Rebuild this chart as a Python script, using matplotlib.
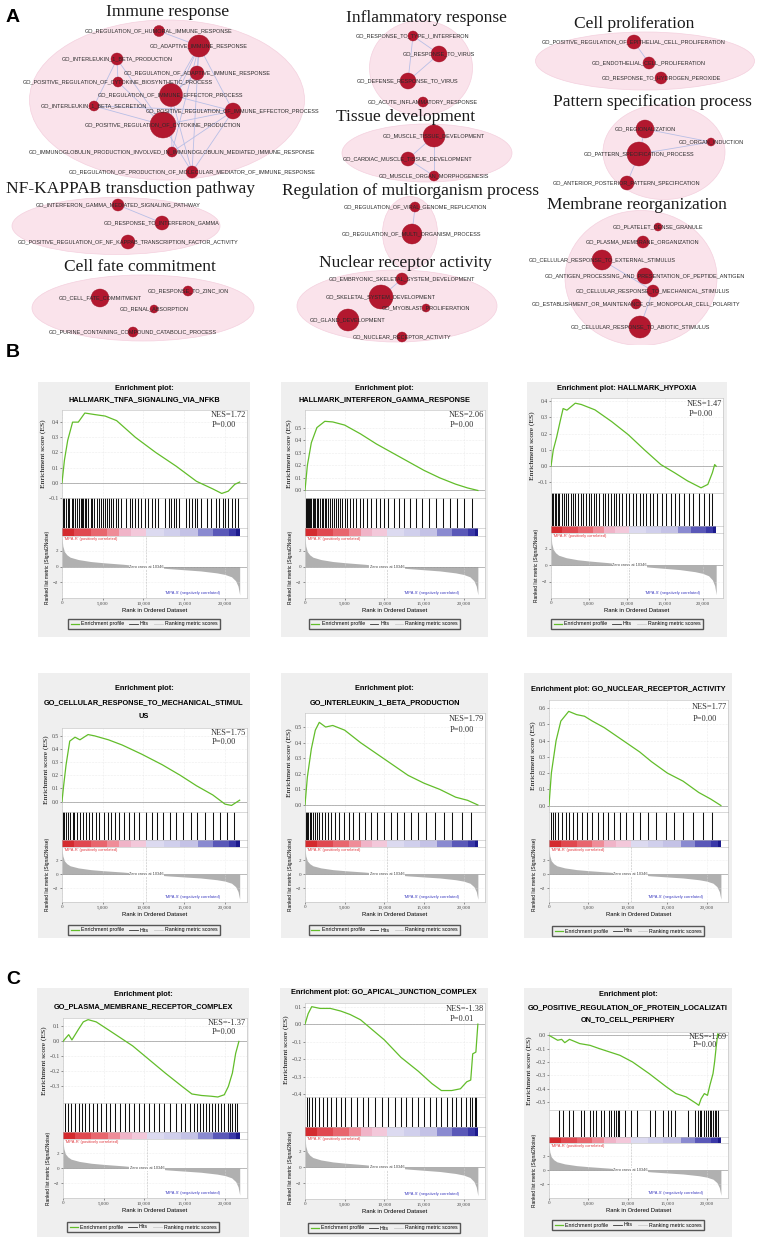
import numpy as np
import matplotlib.pyplot as plt
from matplotlib.patches import Ellipse, Circle, Rectangle
from matplotlib.colors import ListedColormap
from matplotlib.lines import Line2D

SERIF = ['Liberation Serif', 'DejaVu Serif']
SANS = ['Liberation Sans', 'DejaVu Sans']
W, H = 760, 1240

# ---------------- panel A : GO term clusters ----------------
cluster_names = ['Immune response', 'NF-KAPPAB transduction pathway', 'Cell fate commitment',
                 'Inflammatory response', 'Tissue development', 'Regulation of multiorganism process',
                 'Nuclear receptor activity', 'Cell proliferation', 'Pattern specification process',
                 'Membrane reorganization']

cluster_terms = [
    ['GO_REGULATION_OF_HUMORAL_IMMUNE_RESPONSE', 'GO_ADAPTIVE_IMMUNE_RESPONSE',
     'GO_INTERLEUKIN_1_BETA_PRODUCTION', 'GO_REGULATION_OF_ADAPTIVE_IMMUNE_RESPONSE',
     'GO_POSITIVE_REGULATION_OF_CYTOKINE_BIOSYNTHETIC_PROCESS', 'GO_REGULATION_OF_IMMUNE_EFFECTOR_PROCESS',
     'GO_INTERLEUKIN_1_BETA_SECRETION', 'GO_POSITIVE_REGULATION_OF_IMMUNE_EFFECTOR_PROCESS',
     'GO_POSITIVE_REGULATION_OF_CYTOKINE_PRODUCTION',
     'GO_IMMUNOGLOBULIN_PRODUCTION_INVOLVED_IN_IMMUNOGLOBULIN_MEDIATED_IMMUNE_RESPONSE',
     'GO_REGULATION_OF_PRODUCTION_OF_MOLECULAR_MEDIATOR_OF_IMMUNE_RESPONSE'],
    ['GO_INTERFERON_GAMMA_MEDIATED_SIGNALING_PATHWAY', 'GO_RESPONSE_TO_INTERFERON_GAMMA',
     'GO_POSITIVE_REGULATION_OF_NF_KAPPAB_TRANSCRIPTION_FACTOR_ACTIVITY'],
    ['GO_CELL_FATE_COMMITMENT', 'GO_RESPONSE_TO_ZINC_ION', 'GO_RENAL_ABSORPTION',
     'GO_PURINE_CONTAINING_COMPOUND_CATABOLIC_PROCESS'],
    ['GO_RESPONSE_TO_TYPE_I_INTERFERON', 'GO_RESPONSE_TO_VIRUS', 'GO_DEFENSE_RESPONSE_TO_VIRUS',
     'GO_ACUTE_INFLAMMATORY_RESPONSE'],
    ['GO_MUSCLE_TISSUE_DEVELOPMENT', 'GO_CARDIAC_MUSCLE_TISSUE_DEVELOPMENT', 'GO_MUSCLE_ORGAN_MORPHOGENESIS'],
    ['GO_REGULATION_OF_VIRAL_GENOME_REPLICATION', 'GO_REGULATION_OF_MULTI_ORGANISM_PROCESS'],
    ['GO_EMBRYONIC_SKELETAL_SYSTEM_DEVELOPMENT', 'GO_SKELETAL_SYSTEM_DEVELOPMENT',
     'GO_MYOBLAST_PROLIFERATION', 'GO_GLAND_DEVELOPMENT', 'GO_NUCLEAR_RECEPTOR_ACTIVITY'],
    ['GO_POSITIVE_REGULATION_OF_EPITHELIAL_CELL_PROLIFERATION', 'GO_ENDOTHELIAL_CELL_PROLIFERATION',
     'GO_RESPONSE_TO_HYDROGEN_PEROXIDE'],
    ['GO_REGIONALIZATION', 'GO_ORGAN_INDUCTION', 'GO_PATTERN_SPECIFICATION_PROCESS',
     'GO_ANTERIOR_POSTERIOR_PATTERN_SPECIFICATION'],
    ['GO_PLATELET_DENSE_GRANULE', 'GO_PLASMA_MEMBRANE_ORGANIZATION', 'GO_CELLULAR_RESPONSE_TO_EXTERNAL_STIMULUS',
     'GO_ANTIGEN_PROCESSING_AND_PRESENTATION_OF_PEPTIDE_ANTIGEN', 'GO_CELLULAR_RESPONSE_TO_MECHANICAL_STIMULUS',
     'GO_ESTABLISHMENT_OR_MAINTENANCE_OF_MONOPOLAR_CELL_POLARITY', 'GO_CELLULAR_RESPONSE_TO_ABIOTIC_STIMULUS'],
]

# node radius ~ gene set size
cluster_sizes = [
    [5.5, 11, 6, 7, 5, 11.5, 5, 8, 13, 5, 6],
    [6, 7, 7],
    [9, 5, 4, 5],
    [5, 8, 8, 5],
    [11, 7, 5],
    [5, 10],
    [6, 12, 4, 11, 5],
    [7, 6, 6],
    [9, 4, 12, 7],
    [4, 6, 10, 8, 6, 5, 11],
]

cluster_links = [
    [(0, 1), (1, 3), (1, 5), (1, 7), (1, 8), (1, 9), (1, 10), (2, 6), (2, 4), (4, 8), (6, 8), (6, 7),
     (5, 7), (5, 9), (5, 10), (7, 9), (7, 10), (8, 7), (8, 10), (3, 5), (2, 8)],
    [(0, 1)],
    [],
    [(0, 1), (0, 2), (1, 2)],
    [(0, 1), (0, 2), (1, 2)],
    [(0, 1)],
    [(0, 1)],
    [(0, 1)],
    [(0, 1), (0, 2), (2, 1), (2, 3)],
    [(2, 4), (4, 6)],
]

# network layout in pixels
cluster_title_xy = [(168, 12), (130, 189), (140, 267), (426, 18), (406, 117), (410, 191),
                    (405, 263), (634, 24), (652, 102), (637, 205)]
cluster_ellipse = [(167, 100, 275, 160), (116, 226, 208, 57), (143, 308, 222, 66), (421, 68, 103, 95),
                   (427, 153, 170, 58), (410, 233, 55, 73), (397, 306, 200, 72), (645, 61, 219, 58),
                   (664, 152, 122, 95), (641, 278, 152, 135)]
cluster_node_xy = [
    [(159, 31), (199, 46), (117, 59), (197, 73), (118, 82), (171, 95), (94, 106), (233, 111), (163, 125),
     (172, 152), (192, 172)],
    [(118, 205), (162, 223), (128, 242)],
    [(100, 298), (188, 291), (154, 309), (133, 332)],
    [(413, 36), (439, 54), (408, 81), (423, 102)],
    [(434, 136), (408, 159), (434, 176)],
    [(415, 207), (412, 234)],
    [(402, 279), (381, 297), (426, 308), (348, 320), (402, 337)],
    [(634, 42), (649, 63), (661, 78)],
    [(645, 129), (711, 142), (639, 154), (627, 183)],
    [(658, 227), (643, 242), (602, 260), (645, 276), (653, 291), (636, 304), (640, 327)],
]

# ---------------- panels B and C : GSEA ----------------
gsea_titles = ['Enrichment plot:\nHALLMARK_TNFA_SIGNALING_VIA_NFKB',
               'Enrichment plot:\nHALLMARK_INTERFERON_GAMMA_RESPONSE',
               'Enrichment plot: HALLMARK_HYPOXIA',
               'Enrichment plot:\nGO_CELLULAR_RESPONSE_TO_MECHANICAL_STIMUL\nUS',
               'Enrichment plot:\nGO_INTERLEUKIN_1_BETA_PRODUCTION',
               'Enrichment plot: GO_NUCLEAR_RECEPTOR_ACTIVITY',
               'Enrichment plot:\nGO_PLASMA_MEMBRANE_RECEPTOR_COMPLEX',
               'Enrichment plot: GO_APICAL_JUNCTION_COMPLEX',
               'Enrichment plot:\nGO_POSITIVE_REGULATION_OF_PROTEIN_LOCALIZATI\nON_TO_CELL_PERIPHERY']
nes_values = [1.72, 2.06, 1.47, 1.75, 1.79, 1.77, -1.37, -1.38, -1.69]
p_values = [0.00, 0.00, 0.00, 0.00, 0.00, 0.00, 0.00, 0.01, 0.00]

# running enrichment score, rank in thousands
es_x_tnfa = [0, 0.3, 0.7, 1.3, 2.0, 2.8, 4.0, 5.3, 6.7, 9.0, 11.5, 14.0, 16.5, 18.5, 19.6, 20.4, 21.2, 21.8]
es_y_tnfa = [0, 0.15, 0.28, 0.40, 0.40, 0.46, 0.45, 0.44, 0.41, 0.30, 0.20, 0.11, 0.01, -0.04, -0.07, -0.055, -0.01, 0.005]
es_x_ifng = [0, 0.3, 0.8, 1.5, 2.5, 3.5, 5.0, 7.0, 9.0, 11.0, 13.0, 15.0, 17.0, 19.0, 20.5, 21.8]
es_y_ifng = [0, 0.20, 0.38, 0.50, 0.55, 0.545, 0.52, 0.45, 0.37, 0.30, 0.23, 0.16, 0.10, 0.05, 0.02, 0.0]
es_x_hypoxia = [0, 0.3, 0.75, 1.2, 1.6, 2.1, 3.2, 4.0, 5.8, 8.0, 10.2, 12.3, 14.5, 16.3, 18.0, 19.8, 20.7, 21.3, 21.6, 21.8]
es_y_hypoxia = [0, 0.10, 0.18, 0.275, 0.355, 0.345, 0.388, 0.38, 0.347, 0.275, 0.194, 0.102, 0.01, -0.04, -0.09, -0.133, -0.112, -0.04, 0.01, 0.0]
es_x_mech = [0, 0.2, 0.5, 0.95, 1.6, 2.2, 3.2, 4.0, 5.7, 7.4, 9.8, 12.3, 14.5, 16.5, 18.5, 20.0, 20.8, 21.8]
es_y_mech = [0, 0.12, 0.28, 0.46, 0.49, 0.47, 0.51, 0.50, 0.47, 0.43, 0.36, 0.28, 0.20, 0.12, 0.05, -0.02, -0.03, 0.01]
es_x_il1b = [0, 0.3, 0.8, 1.3, 1.8, 2.6, 3.5, 5.0, 7.0, 9.0, 11.0, 13.0, 15.0, 17.0, 19.0, 20.5, 21.8]
es_y_il1b = [0, 0.18, 0.36, 0.48, 0.53, 0.50, 0.51, 0.48, 0.40, 0.33, 0.26, 0.19, 0.14, 0.10, 0.05, 0.03, 0.0]
es_x_nuclear = [0, 0.3, 0.9, 1.5, 2.5, 3.5, 4.5, 5.5, 7.0, 8.5, 10.0, 11.5, 13.0, 15.0, 17.0, 19.0, 20.5, 21.8]
es_y_nuclear = [0, 0.20, 0.40, 0.52, 0.58, 0.56, 0.55, 0.52, 0.48, 0.43, 0.38, 0.33, 0.27, 0.20, 0.15, 0.08, 0.04, 0.0]
es_x_plasma = [0, 0.3, 0.7, 1.1, 1.9, 2.5, 3.1, 4.1, 5.8, 8.6, 10.6, 12.6, 14.7, 15.9, 17.1, 18.3, 19.1, 19.9, 20.4, 20.9, 21.3, 21.7]
es_y_plasma = [0, 0.02, 0.045, 0.01, 0.08, 0.13, 0.145, 0.13, 0.07, -0.03, -0.12, -0.21, -0.30, -0.35, -0.36, -0.365, -0.37, -0.355, -0.30, -0.21, -0.08, 0.0]
es_x_apical = [0, 0.4, 0.85, 1.9, 3.2, 4.5, 5.7, 7.0, 10.0, 12.1, 14.3, 16.0, 17.2, 18.5, 19.6, 20.4, 20.9, 21.15, 21.55, 21.8]
es_y_apical = [0, 0.06, 0.10, 0.09, 0.09, 0.075, 0.055, 0.025, -0.09, -0.19, -0.27, -0.34, -0.38, -0.38, -0.37, -0.33, -0.32, -0.17, -0.16, 0.0]
es_x_periph = [0, 1.1, 1.6, 2.0, 2.6, 3.9, 5.2, 6.4, 7.7, 9.0, 10.6, 12.7, 14.9, 16.1, 17.4, 18.7, 19.0, 19.3, 19.7, 20.1, 20.4, 20.8, 21.0, 21.2, 21.4, 21.6]
es_y_periph = [0, -0.037, -0.03, -0.055, -0.03, -0.062, -0.075, -0.10, -0.125, -0.15, -0.20, -0.287, -0.387, -0.437, -0.462, -0.512, -0.525, -0.475, -0.437, -0.45, -0.375, -0.287, -0.20, -0.087, 0.012, 0.0]

# hit positions, rank in thousands
hits_tnfa = [0.1, 0.3, 0.5, 0.7, 0.9, 1.2, 1.4, 1.6, 1.8, 2.1, 2.3, 2.5, 2.6, 2.8, 3.0, 3.2, 3.5, 3.7, 3.9,
             4.3, 4.5, 4.8, 5.0, 5.3, 5.5, 5.8, 6.0, 6.3, 6.6, 6.9, 7.2, 7.9, 8.3, 8.6, 9.0, 9.3, 9.7, 10.2,
             10.6, 11.0, 11.4, 11.8, 12.6, 13.1, 13.4, 13.7, 14.0, 14.3, 15.2, 15.6, 16.0, 16.3, 16.6, 17.0,
             17.8, 18.3, 18.9, 19.3, 19.7, 20.0, 20.4, 20.8, 21.2, 21.6]
hits_ifng = [0.1, 0.2, 0.35, 0.5, 0.65, 0.8, 0.95, 1.1, 1.3, 1.5, 1.7, 1.9, 2.1, 2.3, 2.5, 2.7, 2.9, 3.1, 3.4,
             3.6, 3.9, 4.1, 4.4, 4.7, 5.0, 5.3, 5.7, 6.0, 6.4, 6.9, 7.3, 7.8, 8.3, 8.9, 9.4, 9.9, 10.5, 11.2,
             11.9, 12.5, 13.2, 14.0, 14.8, 15.7, 16.5, 17.4, 18.3, 19.2, 20.1, 21.0]
hits_hypoxia = [0.1, 0.3, 0.5, 0.7, 0.9, 1.1, 1.4, 1.7, 2.0, 2.3, 2.6, 2.9, 3.2, 3.5, 3.9, 4.2, 4.6, 5.0, 5.3,
                5.7, 6.0, 6.4, 6.8, 7.1, 7.5, 7.9, 8.3, 8.6, 9.0, 9.4, 9.9, 10.3, 10.8, 11.2, 11.7, 12.1, 12.6,
                13.1, 13.5, 14.0, 14.6, 15.2, 15.8, 16.3, 16.9, 17.5, 18.2, 18.8, 19.5, 20.2, 20.8, 21.3]
hits_mech = [0.1, 0.3, 0.5, 0.7, 1.0, 1.3, 1.5, 1.8, 2.2, 2.6, 3.0, 3.3, 3.7, 4.2, 4.6, 5.1, 5.6, 6.0, 6.5,
             7.0, 7.6, 8.2, 8.8, 9.5, 10.3, 11.0, 11.6, 12.4, 13.2, 14.0, 14.9, 15.8, 16.6, 17.6, 18.5,
             19.4, 20.3, 21.1]
hits_il1b = [0.1, 0.25, 0.4, 0.6, 0.8, 1.0, 1.2, 1.5, 1.8, 2.1, 2.5, 2.9, 3.3, 3.8, 4.3, 4.9, 5.5, 6.1, 6.8,
             7.6, 8.3, 9.1, 9.9, 10.8, 11.6, 12.5, 13.4, 14.3, 15.3, 16.4, 17.5, 18.6, 19.8, 20.9]
hits_nuclear = [0.2, 0.5, 0.8, 1.2, 1.6, 2.1, 2.5, 3.0, 3.6, 4.2, 4.8, 5.5, 6.2, 6.9, 7.5, 8.3, 9.0, 9.8,
                10.7, 11.6, 12.5, 13.6, 14.8, 15.9, 17.0, 18.2, 19.5, 20.7]
hits_plasma = [0.2, 0.6, 1.0, 1.5, 2.0, 2.3, 2.7, 3.2, 3.7, 4.2, 4.7, 5.3, 5.8, 6.4, 7.0, 7.6, 8.2, 8.8, 9.4,
               10.0, 10.6, 11.2, 11.9, 12.5, 13.2, 13.9, 14.5, 15.1, 15.7, 16.1, 16.5, 16.9, 17.3, 17.6, 18.0,
               18.4, 18.8, 19.1, 19.5, 19.9, 20.3, 20.6, 20.9, 21.2, 21.5]
hits_apical = [0.2, 0.5, 0.9, 1.3, 1.8, 2.3, 2.8, 3.3, 3.9, 4.5, 5.1, 5.8, 6.5, 7.3, 8.0, 8.8, 9.7, 10.5,
               11.3, 12.1, 12.8, 13.5, 14.3, 15.0, 15.8, 16.5, 17.2, 17.9, 18.5, 19.1, 19.7, 20.3, 20.8,
               21.1, 21.4, 21.6]
hits_periph = [1.3, 1.8, 2.5, 3.0, 4.0, 4.4, 5.2, 5.6, 6.0, 6.6, 7.0, 7.6, 7.9, 8.2, 8.5, 8.7, 8.9, 9.7, 10.4,
               11.2, 12.8, 13.5, 14.5, 15.1, 15.5, 16.0, 17.6, 18.5, 18.9, 19.1, 19.3, 19.6, 19.9, 20.2, 20.4,
               20.6, 20.8, 21.0, 21.2, 21.4]

es_x = [es_x_tnfa, es_x_ifng, es_x_hypoxia, es_x_mech, es_x_il1b, es_x_nuclear, es_x_plasma, es_x_apical, es_x_periph]
es_y = [es_y_tnfa, es_y_ifng, es_y_hypoxia, es_y_mech, es_y_il1b, es_y_nuclear, es_y_plasma, es_y_apical, es_y_periph]
hits = [hits_tnfa, hits_ifng, hits_hypoxia, hits_mech, hits_il1b, hits_nuclear, hits_plasma, hits_apical, hits_periph]
es_ylim = [(-0.1, 0.48), (-0.06, 0.64), (-0.165, 0.42), (-0.08, 0.56), (-0.045, 0.59), (-0.04, 0.65),
           (-0.41, 0.156), (-0.417, 0.121), (-0.56, 0.025)]
es_yticks = [(-0.1, 0.4), (0.0, 0.5), (-0.1, 0.4), (0.0, 0.5), (0.0, 0.5), (0.0, 0.6),
             (-0.3, 0.1), (-0.4, 0.1), (-0.5, 0.0)]

# ranked list metric (shared dataset)
rank_x = [0, 100, 300, 600, 1000, 2000, 3500, 5000, 7500, 10346, 13000, 15000, 17000, 19000, 20000, 20800, 21300, 21600, 21800]
rank_metric = [3.7, 2.6, 1.9, 1.5, 1.2, 0.9, 0.65, 0.5, 0.3, 0.0, -0.25, -0.4, -0.55, -0.8, -1.0, -1.3, -1.8, -2.5, -3.6]
zero_cross = 10346

# heat bar blocks
bar_edges = [0, 1500, 3500, 5500, 7000, 8500, 10346, 12500, 14500, 16700, 18500, 20500, 21400, 21800]
bar_colors = ['#d42a2e', '#e04850', '#e8666e', '#ef8c98', '#f0b4c8', '#f3c8da', '#dcdaf0', '#d0cfec',
              '#c4c2e6', '#8a8ad0', '#5a58b8', '#3a38a8', '#1c1a8c']

# panel geometry in pixels
layout = [
    dict(box=(38, 382, 250, 637), ax=(62, 247), title=(388, 400), es=(410, 498), hits=528, cbar=536, rank=598, leg=624),
    dict(box=(281, 382, 488, 637), ax=(305, 485), title=(388, 400), es=(410, 498), hits=528, cbar=536, rank=598, leg=624),
    dict(box=(527, 382, 727, 637), ax=(551, 723), title=(389,), es=(398, 493), hits=526, cbar=533, rank=598, leg=624),
    dict(box=(38, 673, 250, 938), ax=(62, 247), title=(689, 703, 717), es=(728, 812), hits=840, cbar=847, rank=902, leg=930),
    dict(box=(281, 673, 488, 938), ax=(305, 485), title=(689, 703), es=(713, 812), hits=840, cbar=847, rank=902, leg=930),
    dict(box=(524, 673, 732, 938), ax=(549, 728), title=(690,), es=(700, 812), hits=840, cbar=847, rank=902, leg=931),
    dict(box=(37, 988, 249, 1237), ax=(63, 247), title=(994, 1007), es=(1018, 1103), hits=1132, cbar=1139, rank=1198, leg=1227),
    dict(box=(280, 988, 488, 1237), ax=(305, 485), title=(993,), es=(1003, 1097), hits=1127, cbar=1136, rank=1199, leg=1228),
    dict(box=(524, 988, 732, 1237), ax=(549, 728), title=(995, 1008, 1020), es=(1032, 1110), hits=1137, cbar=1143, rank=1198, leg=1225),
]

GREEN = '#62bd2a'
BOX = '#efefef'
XMAX = 22700


def rect(x0, y0, x1, y1):
    return [x0 / W, 1 - y1 / H, (x1 - x0) / W, (y1 - y0) / H]


def style_axes(ax, size=3.6):
    for s in ax.spines.values():
        s.set_color('#bbbbbb')
        s.set_linewidth(0.4)
    ax.tick_params(length=1.5, width=0.4, labelsize=size, pad=1, colors='#444444')
    for lab in ax.get_xticklabels() + ax.get_yticklabels():
        lab.set_family(SERIF)


fig = plt.figure(figsize=(7.6, 12.4), dpi=100)

# ---- panel A ----
axA = fig.add_axes([0, 1 - 345 / H, 1, 345 / H])
axA.set_xlim(0, W)
axA.set_ylim(345, 0)
axA.axis('off')
for c in range(len(cluster_names)):
    cx, cy, ew, eh = cluster_ellipse[c]
    axA.add_patch(Ellipse((cx, cy), ew, eh, fc='#fae3eb', ec='#f4d0de', lw=0.5, zorder=1))
    pts = cluster_node_xy[c]
    for a, b in cluster_links[c]:
        axA.plot([pts[a][0], pts[b][0]], [pts[a][1], pts[b][1]], color='#b8bfe6', lw=0.6, zorder=2)
    for (x, y), r, term in zip(pts, cluster_sizes[c], cluster_terms[c]):
        axA.add_patch(Circle((x, y), r, fc='#b3182f', ec='#a01428', lw=0.3, zorder=3))
        axA.text(x, y, term, fontsize=4, family=SANS, color='#2a2a2a', ha='center', va='center', zorder=4)
    tx, ty = cluster_title_xy[c]
    axA.text(tx, ty, cluster_names[c], fontsize=12.5, family=SERIF, color='#1a1a1a',
             ha='center', va='center', zorder=5)

for letter, (lx, ly) in zip('ABC', [(13, 17), (13, 352), (13, 980)]):
    fig.text(lx / W, 1 - ly / H, letter, fontsize=14, fontweight='bold', family=SANS,
             ha='center', va='center')

# ---- panels B and C ----
bar_cmap = ListedColormap(bar_colors)
xt = [0, 5000, 10000, 15000, 20000]
for k, L in enumerate(layout):
    bx0, by0, bx1, by1 = L['box']
    fig.add_artist(Rectangle((bx0 / W, 1 - by1 / H), (bx1 - bx0) / W, (by1 - by0) / H,
                             transform=fig.transFigure, fc=BOX, ec='none', zorder=0))
    bcx = (bx0 + bx1) / 2
    for line, ly in zip(gsea_titles[k].split('\n'), L['title']):
        fig.text(bcx / W, 1 - ly / H, line, fontsize=5.3, fontweight='bold', family=SANS,
                 ha='center', va='center')
    x0, x1 = L['ax']
    e0, e1 = L['es']

    # running enrichment score
    ax = fig.add_axes(rect(x0, e0, x1, e1))
    ax.plot(np.array(es_x[k]) * 1000, es_y[k], color=GREEN, lw=0.9, zorder=3)
    ax.axhline(0, color='#9a9a9a', lw=0.5, zorder=2)
    ax.set_xlim(0, XMAX)
    ax.set_ylim(*es_ylim[k])
    lo, hi = es_yticks[k]
    ax.set_yticks(np.round(np.arange(lo, hi + 0.001, 0.1), 1))
    ax.set_xticks(xt)
    ax.set_xticklabels([])
    ax.tick_params(axis='x', length=0)
    ax.grid(color='#dddddd', lw=0.4, ls=':')
    ax.set_ylabel('Enrichment score (ES)', fontsize=5.4, family=SERIF, labelpad=2)
    style_axes(ax, 4.0)
    nes = nes_values[k]
    ax.text(0.995, 0.94, f'NES={nes:.2f}', transform=ax.transAxes, fontsize=6, family=SERIF,
            color='#333333', ha='right', va='center')
    ax.text(0.94, 0.83, f'P={p_values[k]:.2f}', transform=ax.transAxes, fontsize=6, family=SERIF,
            color='#333333', ha='right', va='center')

    # hits
    axh = fig.add_axes(rect(x0, e1, x1, L['hits']))
    axh.vlines(np.array(hits[k]) * 1000, 0, 1, color='#111111', lw=0.75)
    axh.set_xlim(0, XMAX)
    axh.set_ylim(0, 1)
    axh.set_xticks([])
    axh.set_yticks([])
    style_axes(axh)

    # heat bar
    axc = fig.add_axes(rect(x0, L['hits'], x1, L['cbar']))
    axc.pcolormesh(bar_edges, [0, 1], np.arange(len(bar_colors))[None, :], cmap=bar_cmap)
    axc.set_xlim(0, XMAX)
    axc.set_ylim(0, 1)
    axc.set_xticks([])
    axc.set_yticks([])
    style_axes(axc)

    # ranked list metric
    axr = fig.add_axes(rect(x0, L['cbar'], x1, L['rank']))
    axr.fill_between(rank_x, rank_metric, 0, color='#b0b0b0', lw=0)
    axr.axhline(0, color='#8a8a8a', lw=0.4)
    axr.axvline(zero_cross, color='#bbbbbb', lw=0.4, ls='--')
    axr.set_xlim(0, XMAX)
    axr.set_ylim(-4, 3.9)
    axr.set_yticks([-2, 0, 2])
    axr.set_xticks(xt)
    axr.set_xticklabels([f'{v:,}' for v in xt])
    axr.grid(color='#e2e2e2', lw=0.4, ls=':')
    axr.text(zero_cross, 0, f'Zero cross at {zero_cross}', fontsize=2.8, family=SANS, color='#444444',
             ha='center', va='center', bbox=dict(fc='white', ec='none', pad=0.3))
    axr.text(300, 3.75, "'MPA-R' (positively correlated)", fontsize=2.9, family=SANS, color='#e03a40',
             ha='left', va='top')
    axr.text(16000, -3.35, "'MPA-S' (negatively correlated)", fontsize=2.9, family=SANS, color='#3c3cc0',
             ha='center', va='center')
    axr.set_xlabel('Rank in Ordered Dataset', fontsize=4.2, family=SANS, labelpad=2)
    axr.set_ylabel('Ranked list metric (Signal2Noise)', fontsize=3.5, family=SANS, labelpad=2)
    style_axes(axr)

    handles = [Line2D([], [], color=GREEN, lw=0.9), Line2D([], [], color='#333333', lw=0.6),
               Line2D([], [], color='#cccccc', lw=0.6)]
    fig.legend(handles, ['Enrichment profile', 'Hits', 'Ranking metric scores'], loc='center',
               bbox_to_anchor=(bcx / W, 1 - L['leg'] / H), ncol=3, prop={'family': SANS, 'size': 3.8},
               frameon=True, fancybox=False, edgecolor='#555555', facecolor=BOX, framealpha=1,
               handlelength=1.6, handletextpad=0.4, columnspacing=1.0, borderpad=0.4)

fig.savefig('out.png', dpi=100)
